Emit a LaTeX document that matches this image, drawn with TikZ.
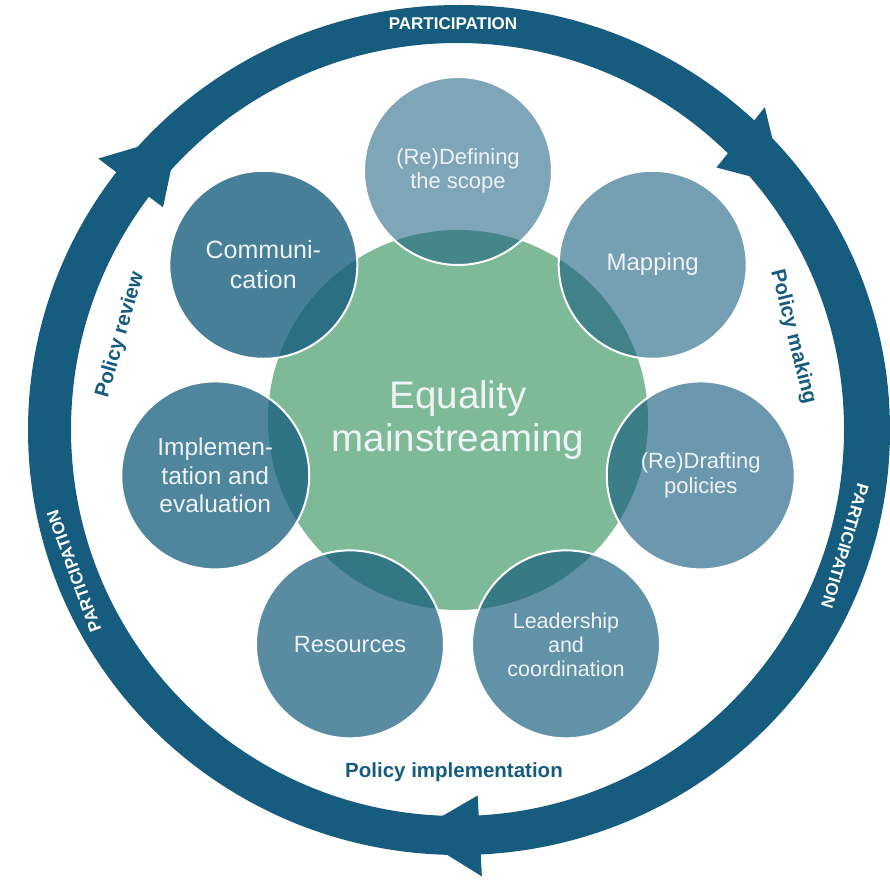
\documentclass[tikz,border=0pt]{standalone}
\usepackage{fontspec}
\setmainfont{Liberation Sans}
\usetikzlibrary{calc}
\definecolor{ringblue}{RGB}{21,92,126}
\definecolor{mgreen}{RGB}{127,186,152}
\definecolor{txtwhite}{RGB}{238,243,246}
\begin{document}
\begin{tikzpicture}[x=1pt,y=1pt,
  bubble/.style={circle, minimum size=188pt, inner sep=0pt, draw=white, line width=2pt,
    fill=ringblue, text=txtwhite, text opacity=1, align=center},
  ringtext/.style={text=white, font=\bfseries\fontsize{17}{20}\selectfont, inner sep=0pt},
  phase/.style={text=ringblue, font=\bfseries\fontsize{20.5}{24}\selectfont, inner sep=0pt},
  arrowhd/.style={fill=ringblue}]
\useasboundingbox (0,0) rectangle (890,879);
\coordinate (RC) at (458.5,449);
\coordinate (O) at (458,459);
% ring
\fill[ringblue, even odd rule] (459,449) ellipse [x radius=431, y radius=425]
  (457.5,449.5) circle [radius=386.5];
% arrowheads
\fill[arrowhd] ($(RC)+(46.5:445)$) -- ($(RC)+(37:407)$) -- ($(RC)+(45.5:368)$) -- cycle;
\fill[arrowhd] ($(RC)+(-87:447)$) -- ($(RC)+(-96.5:406)$) -- ($(RC)+(-87:366)$) -- cycle;
\fill[arrowhd] ($(RC)+(143:451)$) -- ($(RC)+(133.5:407)$) -- ($(RC)+(143:370)$) -- cycle;
% centre
\node[circle, fill=mgreen, minimum size=380pt, inner sep=0pt, text=txtwhite, align=center,
  font=\fontsize{38.5}{43.5}\selectfont] (core) at (O) {Equality\\mainstreaming};
% bubbles
\node[bubble, fill opacity=0.55, font=\fontsize{22}{24}\selectfont] (scope) at ($(O)+(90:249)$) {(Re)Defining\\the scope};
\node[bubble, fill opacity=0.59, font=\fontsize{24}{28}\selectfont] (mapping) at ($(O)+(38.57:249)$) {Mapping};
\node[bubble, fill opacity=0.63, font=\fontsize{22}{25}\selectfont] (drafting) at ($(O)+(-12.86:249)$) {(Re)Drafting\\policies};
\node[bubble, fill opacity=0.67, font=\fontsize{21.5}{24}\selectfont] (leader) at ($(O)+(-64.29:249)$) {Leadership\\and\\coordination};
\node[bubble, fill opacity=0.71, font=\fontsize{23.5}{28}\selectfont] (resources) at ($(O)+(-115.71:249)$) {Resources};
\node[bubble, fill opacity=0.75, font=\fontsize{24.5}{28.5}\selectfont] (impl) at ($(O)+(-167.14:249)$) {Implemen-\\tation and\\evaluation};
\node[bubble, fill opacity=0.79, font=\fontsize{25}{29.5}\selectfont] (comm) at ($(O)+(141.43:249)$) {Communi-\\cation};
% ring texts
\node[ringtext] (p1) at (453,855.5) {PARTICIPATION};
\node[ringtext, rotate=-106.7] (p2) at (845,333) {PARTICIPATION};
\node[ringtext, rotate=110.1] (p3) at (74,308) {PARTICIPATION};
% phase labels
\node[phase, rotate=-76] (making) at (793,542) {Policy making};
\node[phase] (implement) at (454,107) {Policy implementation};
\node[phase, rotate=74] (review) at (120.5,544) {Policy review};
\end{tikzpicture}
\end{document}
